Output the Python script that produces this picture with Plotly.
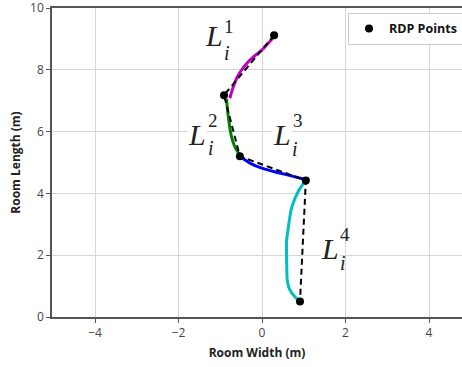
import plotly.graph_objects as go

# RDP points
rdp_x = [0.29, -0.91, -0.53, 1.05, 0.91]
rdp_y = [9.12, 7.18, 5.20, 4.42, 0.50]

# Segment curves
seg1_x = [-0.77, -0.70, -0.58, -0.42, -0.22, -0.02, 0.15, 0.30]
seg1_y = [7.08, 7.40, 7.80, 8.12, 8.40, 8.62, 8.86, 9.09]
seg2_x = [-0.85, -0.82, -0.78, -0.73, -0.65, -0.54]
seg2_y = [7.06, 6.63, 6.21, 5.83, 5.51, 5.25]
seg3_x = [-0.53, -0.29, 0.03, 0.43, 0.75, 1.03]
seg3_y = [5.20, 4.98, 4.80, 4.66, 4.55, 4.45]
seg4_x = [1.03, 0.87, 0.71, 0.63, 0.59, 0.59, 0.61, 0.67, 0.79, 0.89]
seg4_y = [4.39, 4.07, 3.54, 2.89, 2.47, 1.83, 1.13, 0.87, 0.65, 0.52]

seg_colors = ["#c000c0", "#008000", "#0000ff", "#00bfbf"]

# Segment labels: L position, superscript, subscript positions
lab_sup = ["1", "2", "3", "4"]
lab_L = [(-1.16, 9.10), (-1.56, 5.91), (0.49, 5.91), (1.62, 2.21)]
lab_sup_pos = [(-0.79, 9.41), (-1.17, 6.36), (0.86, 6.36), (1.99, 2.68)]
lab_sub_pos = [(-0.84, 8.56), (-1.23, 5.46), (0.80, 5.43), (1.93, 1.75)]

x_ticks = [-4, -2, 0, 2, 4]
y_ticks = [0, 2, 4, 6, 8, 10]

fig = go.Figure()
for sx, sy, c in zip([seg1_x, seg2_x, seg3_x, seg4_x],
                     [seg1_y, seg2_y, seg3_y, seg4_y], seg_colors):
    fig.add_trace(go.Scatter(x=sx, y=sy, mode="lines", line=dict(color=c, width=3, shape="spline", smoothing=0.8),
                             showlegend=False, hoverinfo="skip"))
fig.add_trace(go.Scatter(x=rdp_x, y=rdp_y, mode="lines",
                         line=dict(color="black", width=2, dash="6px,4px"),
                         showlegend=False, hoverinfo="skip"))
fig.add_trace(go.Scatter(x=rdp_x, y=rdp_y, mode="markers", name="<b>RDP Points</b>",
                         marker=dict(color="black", size=8)))

serif = "Liberation Serif"
for (lx, ly), (px, py), (bx, by), s in zip(lab_L, lab_sup_pos, lab_sub_pos, lab_sup):
    fig.add_annotation(x=lx, y=ly, xref="x", yref="y", text="<i>L</i>", showarrow=False,
                       font=dict(family=serif, size=30, color="#222"), bgcolor="white",
                       xanchor="center", yanchor="middle", borderpad=0)
    fig.add_annotation(x=px, y=py, xref="x", yref="y", text=s, showarrow=False,
                       font=dict(family=serif, size=19, color="#222"),
                       xanchor="center", yanchor="middle", borderpad=0)
    fig.add_annotation(x=bx, y=by, xref="x", yref="y", text="<i>i</i>", showarrow=False,
                       font=dict(family=serif, size=20, color="#222"),
                       xanchor="center", yanchor="middle", borderpad=0)

axis_common = dict(showgrid=True, gridcolor="#d6d6d6", gridwidth=1, zeroline=False,
                   showline=True, linecolor="#555", linewidth=1.5,
                   ticks="outside", ticklen=4, tickcolor="#555",
                   ticklabeloverflow="allow", automargin=False,
                   tickfont=dict(family="Open Sans", size=12, color="#444"))

fig.update_xaxes(range=[-5.03, 4.79], tickvals=x_ticks, mirror=True,
                 title=dict(text="<b>Room Width (m)</b>", font=dict(family="Open Sans", size=12, color="#222"),
                            standoff=8),
                 **axis_common)
fig.update_yaxes(range=[0, 10], tickvals=y_ticks, mirror=False,
                 title=dict(text="<b>Room Length (m)</b>", font=dict(family="Open Sans", size=12, color="#222"),
                            standoff=7),
                 **axis_common)

fig.update_layout(
    width=462, height=367,
    margin=dict(l=52, r=0, t=8, b=50, autoexpand=False),
    plot_bgcolor="white", paper_bgcolor="white",
    legend=dict(x=0.722, y=0.984, xanchor="left", yanchor="top",
                bgcolor="white", bordercolor="#cccccc", borderwidth=1,
                font=dict(family="Open Sans", size=12.5, color="#111"), itemwidth=30),
)

fig.write_html("out.html")
